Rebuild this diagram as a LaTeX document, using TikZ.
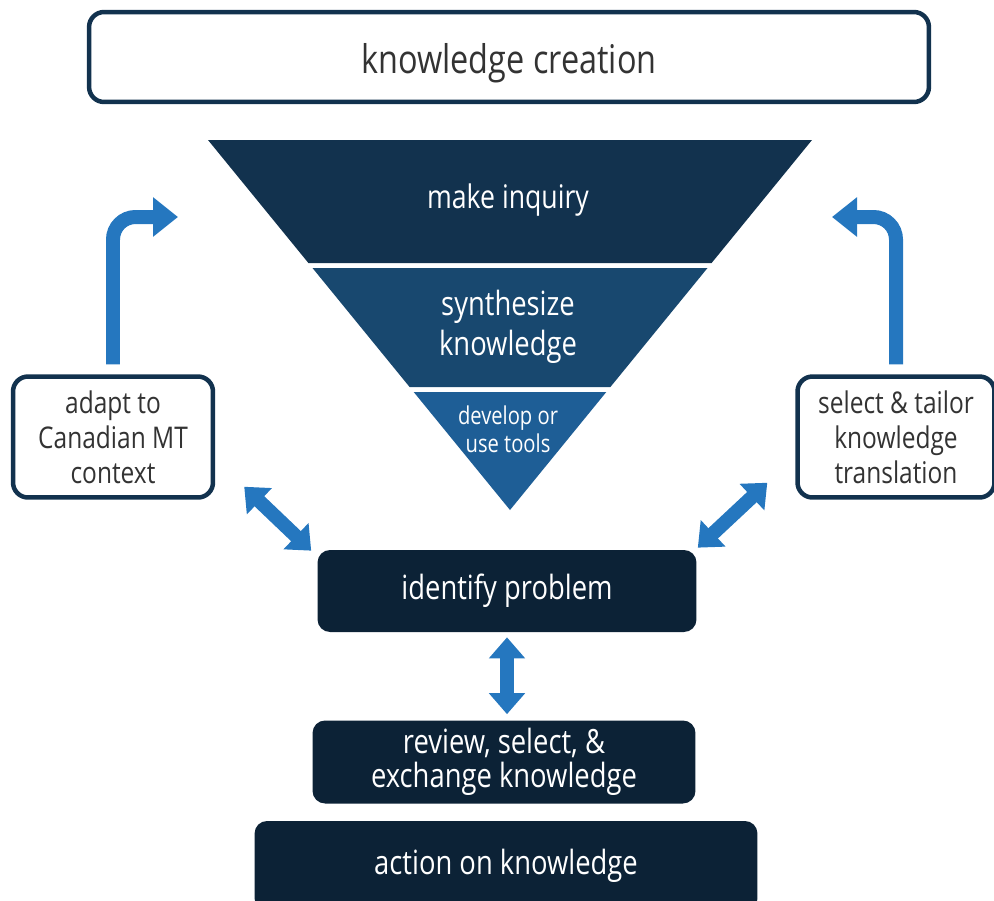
\documentclass[tikz,border=0pt]{standalone}
\usepackage{fontspec}
\setmainfont{Open Sans}[FakeStretch=0.82]
\usetikzlibrary{positioning, arrows.meta, calc}
\definecolor{kNavy}{HTML}{12324E}
\definecolor{kBlue}{HTML}{18486F}
\definecolor{kSteel}{HTML}{1E5E96}
\definecolor{kInk}{HTML}{0C2236}
\definecolor{kArrow}{HTML}{2577BF}
\definecolor{kText}{HTML}{333333}

\begin{document}
\begin{tikzpicture}[x=0.02cm, y=-0.02cm,
  outline/.style={draw=kNavy, line width=0.09cm, fill=white, rounded corners=0.3cm,
    text=kText, align=center, inner sep=0pt},
  stage/.style={fill=kInk, rounded corners=0.25cm, text=white, align=center,
    inner sep=0pt, font=\fontsize{19}{19.5}\selectfont},
  band/.style={text=white, align=center},
  flow/.style={draw=kArrow, line width=0.28cm, rounded corners=0.45cm,
    -{Triangle[length=0.5cm, width=0.76cm]}},
  swap/.style={draw=kArrow, line width=0.28cm,
    {Triangle[length=0.42cm, width=0.7cm]}-{Triangle[length=0.42cm, width=0.7cm]}},
]
  \useasboundingbox (0,0) rectangle (994,900);

  % knowledge creation funnel
  \fill[kNavy] (208,140) -- (812,140) -- (711.6,263) -- (308.4,263) -- cycle;
  \fill[kBlue] (312.5,268) -- (707.5,268) -- (610.4,387) -- (409.6,387) -- cycle;
  \fill[kSteel] (413.7,392) -- (606.3,392) -- (510,510) -- cycle;
  \node[band, font=\fontsize{18.5}{21}\selectfont] (inquiry) at (508,200) {make inquiry};
  \node[band, font=\fontsize{19}{22.5}\selectfont] (synth) at (508,327) {synthesize\\knowledge};
  \node[band, font=\fontsize{14}{16}\selectfont] (tools) at (508,429) {develop or\\use tools};

  \node[outline, minimum width=16.8cm, minimum height=1.8cm,
    label={[yshift=-0.12cm, text=kText, font=\fontsize{22.5}{24}\selectfont]center:knowledge creation}]
    (creation) at (509,57) {};
  \node[outline, minimum width=4cm, minimum height=2.42cm,
    font=\fontsize{17}{20}\selectfont] (adapt) at (113,437) {adapt to\\Canadian MT\\context};
  \node[outline, minimum width=3.94cm, minimum height=2.42cm,
    font=\fontsize{17}{20}\selectfont] (tailor) at (896,437) {select \& tailor\\knowledge\\translation};

  % action cycle
  \node[stage, minimum width=7.58cm, minimum height=1.64cm] (identify) at (507,591) {identify problem};
  \node[stage, minimum width=7.66cm, minimum height=1.66cm] (review) at (504,762) {review, select, \&\\exchange knowledge};
  \node[stage, minimum width=10.06cm, minimum height=1.8cm] (action) at (506,866) {action on knowledge};

  \coordinate (adaptTip) at (178,217);
  \coordinate (tailorTip) at (832,217);
  \draw[flow] ([yshift=0.2cm]adapt.north) |- (adaptTip);
  \draw[flow] ([yshift=0.2cm]tailor.north) |- (tailorTip);

  \draw[swap] ([shift={(0.58cm,0.26cm)}]adapt.south east) -- ([shift={(-0.12cm,-0.02cm)}]identify.north west);
  \draw[swap] ([shift={(-0.56cm,0.34cm)}]tailor.south west) -- ([shift={(0.02cm,0.04cm)}]identify.north east);
  \draw[swap] ([yshift=-0.1cm]identify.south) -- ([yshift=0.12cm]identify.south |- review.north);
\end{tikzpicture}
\end{document}
